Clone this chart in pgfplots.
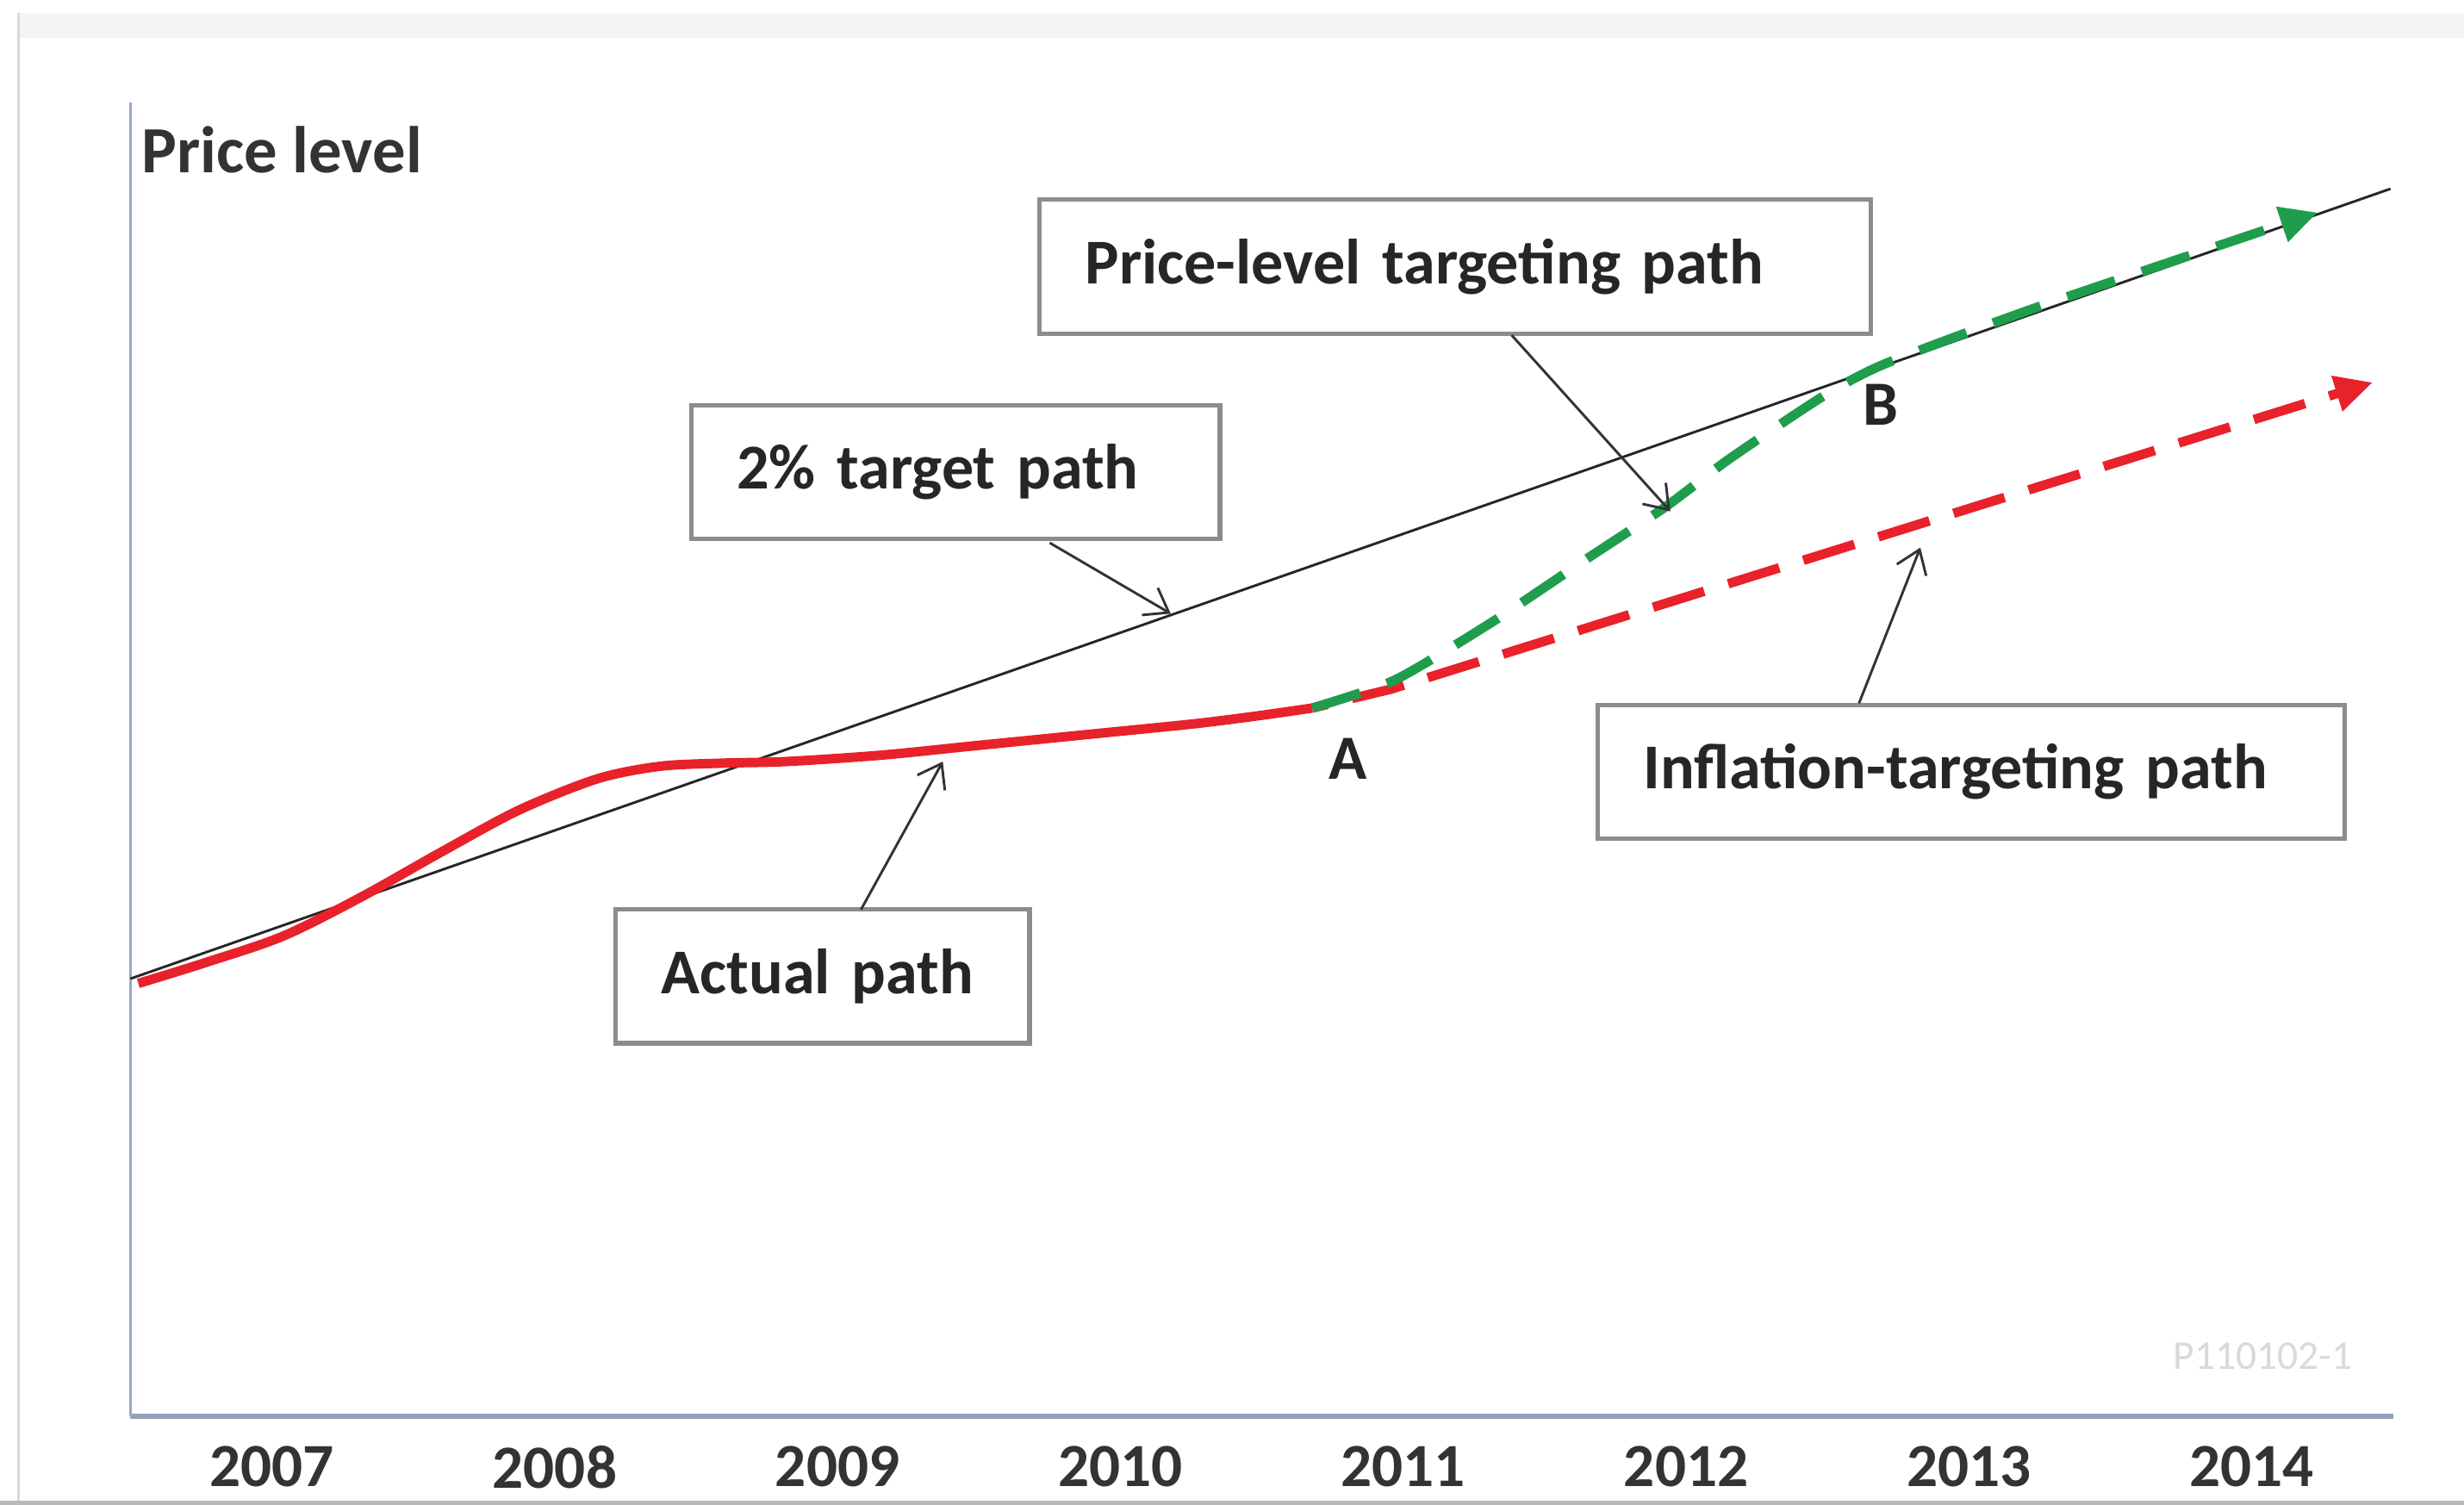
\documentclass[border=0pt]{standalone}
\usepackage{fontspec}
\setmainfont{Carlito}
\usepackage{pgfplots}
\usepackage{pgfplotstable}
\pgfplotsset{compat=1.18}
\usetikzlibrary{arrows.meta}
\definecolor{myred}{HTML}{E8212B}
\definecolor{mygreen}{HTML}{1F9D4C}
\definecolor{axisblue}{HTML}{9AA8C8}
\definecolor{boxgray}{HTML}{8C8C8C}

\pgfplotstableread{
x y
-0.5 278
7.49 780
}\target

\pgfplotstableread{
x y
-0.472 275
-0.239 288
0.039 305
0.317 330
0.594 358
0.872 385
1.150 405
1.372 413
1.594 415
1.817 416
2.150 420
2.483 426
2.928 434
3.261 440
3.483 445
3.678 450
}\actual

\pgfplotstableread{
x y
3.678 450
3.956 462
7.428 657
}\inflation

\pgfplotstableread{
x y
3.678 450
3.972 468
4.317 505
4.650 545
4.928 578
5.150 608
5.483 648
5.706 669
6.261 706
7.233 765
}\pricelevel

\tikzset{lbl/.style={draw=boxgray, line width=1.4pt, fill=white,
  minimum height=42.5pt, inner xsep=14.5pt, align=left,
  font=\fontsize{20.3}{24}\selectfont\bfseries, text=black!85}}

\begin{document}
\begin{tikzpicture}
\begin{axis}[
  scale only axis, width=719pt, height=417.5pt,
  xmin=-0.5, xmax=7.5, ymin=0, ymax=835,
  axis x line*=bottom, axis y line*=left,
  x axis line style={draw=axisblue!80!gray, line width=1.5pt},
  y axis line style={draw=axisblue, line width=0.8pt},
  xtick={0,...,7}, xticklabels={2007,2008,2009,2010,2011,2012,2013,2014},
  ytick=\empty, major tick length=0pt,
  xticklabel style={font=\fontsize{19.5}{22}\selectfont\bfseries, text=black!80, yshift=-6pt},
  clip=false,
]
\coordinate (BL) at (axis cs:-0.9611,-56);
\coordinate (TR) at (axis cs:7.75,900);
% frame
\fill[gray!9] (axis cs:-0.895,876) rectangle (axis cs:7.75,892);
\draw[gray!30, line width=0.8pt] (axis cs:-0.895,-55) -- (axis cs:-0.895,892);
\draw[gray!55, line width=1.5pt] (axis cs:-0.9611,-55) -- (axis cs:7.75,-55);

\addplot[black!85, line width=0.8pt] table {\target};
\addplot[myred, line width=3pt, smooth, tension=0.5] table {\actual};
\addplot[myred, line width=3pt, dash pattern=on 17pt off 8pt, dash phase=12pt,
  -{Triangle[length=12pt,width=11pt]}] table {\inflation};
\addplot[mygreen, line width=3pt, smooth, tension=0.4, dash pattern=on 16pt off 9pt,
  -{Triangle[length=12pt,width=11pt]}] table {\pricelevel};

% annotation boxes
\node[lbl, text width=139pt] at (axis cs:2.417,600) {2\% target path};
\node[lbl, text width=235pt] at (axis cs:4.183,730.5) {Price-level targeting path};
\node[lbl, text width=102.5pt] at (axis cs:1.947,279.5) {Actual path};
\node[lbl, text width=208.5pt] at (axis cs:6.008,409.5) {Inflation-targeting path};

% pointer arrows
\draw[black!80, line width=0.8pt, -{Straight Barb[length=7pt,width=10pt]}] (axis cs:2.75,555) -- (axis cs:3.178,510);
\draw[black!80, line width=0.8pt, -{Straight Barb[length=7pt,width=10pt]}] (axis cs:4.383,687) -- (axis cs:4.944,575);
\draw[black!80, line width=0.8pt, -{Straight Barb[length=7pt,width=10pt]}] (axis cs:2.083,322) -- (axis cs:2.372,416);
\draw[black!80, line width=0.8pt, -{Straight Barb[length=7pt,width=10pt]}] (axis cs:5.611,453) -- (axis cs:5.828,552);

% text labels
\node[anchor=west, font=\fontsize{21}{24}\selectfont\bfseries, text=black!80, inner sep=0pt] at (axis cs:-0.461,805) {Price level};
\node[font=\fontsize{20}{24}\selectfont\bfseries, text=black!85] at (axis cs:3.806,418) {A};
\node[font=\fontsize{20}{24}\selectfont\bfseries, text=black!85] at (axis cs:5.689,643) {B};
\node[font=\fontsize{13}{15}\selectfont, text=gray!30] at (axis cs:7.039,38) {P110102-1};
\end{axis}
\pgfresetboundingbox
\useasboundingbox (BL) rectangle (TR);
\end{tikzpicture}
\end{document}
